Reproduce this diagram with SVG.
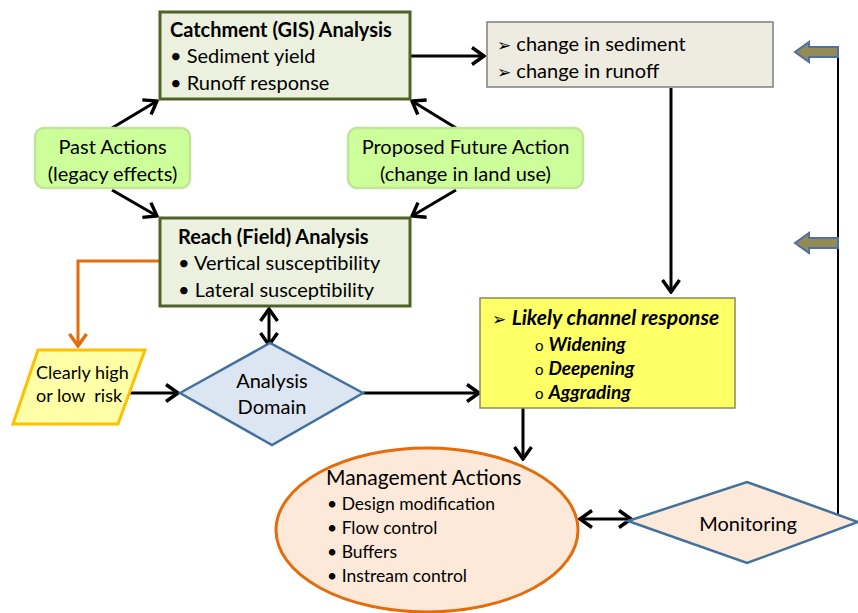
<svg xmlns="http://www.w3.org/2000/svg" width="858" height="613" viewBox="0 0 858 613">
<defs>
<style>
text{font-family:Lato,"Open Sans","Liberation Sans",sans-serif;fill:#000}
.t{font-size:20px}
.b{font-weight:bold}
.bi{font-weight:bold;font-style:italic}
.sym{font-family:"DejaVu Sans",sans-serif;font-size:17px}
.gbox{fill:#ebf1de;stroke:#4f6228;stroke-width:3}
.grn{fill:#ccff99;stroke:#c3e39b;stroke-width:2.5}
.con{stroke:#000;stroke-width:3;fill:none}
.blk{fill:#948a54;stroke:#4f6fa8;stroke-width:2}
</style>
<marker id="ah" markerUnits="userSpaceOnUse" viewBox="-14 -10 16 20" markerWidth="16" markerHeight="20" refX="0" refY="0" orient="auto-start-reverse">
<path d="M-12,-8.5 L0,0 L-12,8.5" fill="none" stroke="#000" stroke-width="3.4"/>
</marker>
<marker id="aho" markerUnits="userSpaceOnUse" viewBox="-14 -10 16 20" markerWidth="16" markerHeight="20" refX="0" refY="0" orient="auto">
<path d="M-12,-8.5 L0,0 L-12,8.5" fill="none" stroke="#e46c0a" stroke-width="3.4"/>
</marker>
</defs>

<g id="connectors">
<line class="con" x1="112" y1="128" x2="157" y2="101" marker-end="url(#ah)"/>
<line class="con" x1="456" y1="128" x2="412" y2="101" marker-end="url(#ah)"/>
<line class="con" x1="112" y1="190" x2="157" y2="216" marker-end="url(#ah)"/>
<line class="con" x1="456" y1="190" x2="412" y2="216" marker-end="url(#ah)"/>
<line class="con" x1="410" y1="56" x2="484" y2="56" marker-end="url(#ah)"/>
<line class="con" x1="671" y1="88" x2="671" y2="292" marker-end="url(#ah)"/>
<line class="con" x1="269" y1="309" x2="269" y2="345" marker-start="url(#ah)" marker-end="url(#ah)"/>
<polyline points="160,261 78,261 78,346" fill="none" stroke="#e46c0a" stroke-width="3" marker-end="url(#aho)"/>
<line class="con" x1="130" y1="393" x2="178" y2="393" marker-end="url(#ah)"/>
<line class="con" x1="363" y1="393" x2="479" y2="393" marker-end="url(#ah)"/>
<line class="con" x1="523" y1="408" x2="523" y2="459" marker-end="url(#ah)"/>
<line class="con" x1="580" y1="519" x2="631" y2="519" marker-start="url(#ah)" marker-end="url(#ah)"/>
<line x1="838" y1="52" x2="838" y2="515" stroke="#000" stroke-width="2"/>
<polygon class="blk" points="838,47 809,47 809,42 795,52 809,62 809,57 838,57"/>
<polygon class="blk" points="838,238 809,238 809,233 795,243 809,253 809,248 838,248"/>
</g>

<g id="catchment">
<rect class="gbox" x="160" y="12" width="250" height="87"/>
<text class="t b" x="170" y="37">Catchment (GIS) Analysis</text>
<text class="t" x="170" y="63">• Sediment yield</text>
<text class="t" x="170" y="90">• Runoff response</text>
</g>

<g id="change">
<rect x="487" y="22" width="286" height="65" fill="#eeece1" stroke="#7f7f7f" stroke-width="1.5"/>
<text class="t" x="497" y="51"><tspan class="sym">➢</tspan> change in sediment</text>
<text class="t" x="497" y="78"><tspan class="sym">➢</tspan> change in runoff</text>
</g>

<g id="past">
<rect class="grn" x="35" y="128" width="155" height="60" rx="9"/>
<text class="t" x="112.5" y="154" text-anchor="middle">Past Actions</text>
<text class="t" x="112.5" y="181" text-anchor="middle">(legacy effects)</text>
</g>

<g id="proposed">
<rect class="grn" x="348" y="128" width="235" height="60" rx="9"/>
<text class="t" x="465.5" y="154" text-anchor="middle">Proposed Future Action</text>
<text class="t" x="465.5" y="181" text-anchor="middle">(change in land use)</text>
</g>

<g id="reach">
<rect class="gbox" x="160" y="218" width="250" height="88"/>
<text class="t b" x="178" y="244">Reach (Field) Analysis</text>
<text class="t" x="178" y="270">• Vertical susceptibility</text>
<text class="t" x="178" y="297">• Lateral susceptibility</text>
</g>

<g id="clearly">
<polygon points="38,350 145,350 118,424 13,424" fill="#ffffa8" stroke="#ffc000" stroke-width="3"/>
<text x="36" y="379" font-size="18">Clearly high</text>
<text x="36" y="402" font-size="18" xml:space="preserve">or low  risk</text>
</g>

<g id="domain">
<polygon points="180,393 270,343 363,393 272,445" fill="#dce6f2" stroke="#41719c" stroke-width="2.5"/>
<text x="272" y="388" font-size="20" text-anchor="middle">Analysis</text>
<text x="272" y="414" font-size="20" text-anchor="middle">Domain</text>
</g>

<g id="likely">
<rect x="480" y="298" width="255" height="110" fill="#ffff66" stroke="#8a8a5a" stroke-width="1.5"/>
<text x="492" y="325" font-size="21"><tspan class="sym">➢</tspan> <tspan class="bi">Likely channel response</tspan></text>
<text x="535" y="351" font-size="19"><tspan font-size="15" font-weight="normal">o</tspan> <tspan class="bi">Widening</tspan></text>
<text x="535" y="375" font-size="19"><tspan font-size="15" font-weight="normal">o</tspan> <tspan class="bi">Deepening</tspan></text>
<text x="535" y="399" font-size="19"><tspan font-size="15" font-weight="normal">o</tspan> <tspan class="bi">Aggrading</tspan></text>
</g>

<g id="management">
<ellipse cx="427" cy="530" rx="151" ry="82" fill="#fde9d9" stroke="#e46c0a" stroke-width="3"/>
<text x="326" y="485" font-size="21">Management Actions</text>
<text x="327" y="510" font-size="17.5">• Design modification</text>
<text x="327" y="534" font-size="17.5">• Flow control</text>
<text x="327" y="558" font-size="17.5">• Buffers</text>
<text x="327" y="582" font-size="17.5">• Instream control</text>
</g>

<g id="monitoring">
<polygon points="628,521 747,482 858,522 747,563" fill="#fde9d9" stroke="#41719c" stroke-width="2.5"/>
<text x="748" y="531" font-size="20" text-anchor="middle">Monitoring</text>
</g>
</svg>
